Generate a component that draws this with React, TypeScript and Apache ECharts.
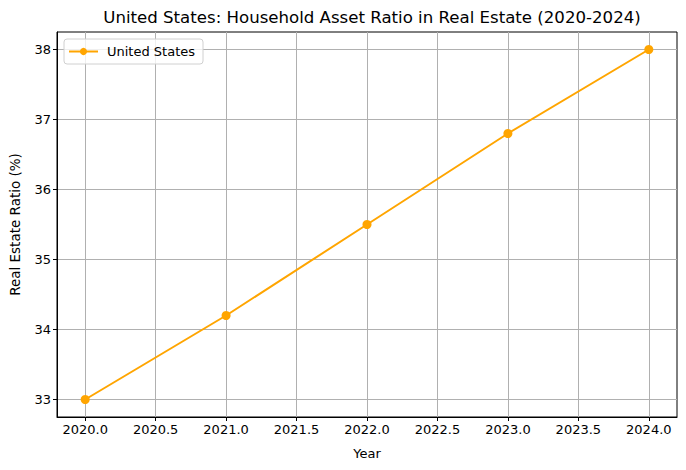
import React, { useEffect, useRef } from "react";
import * as echarts from "echarts";

const years = [2020, 2021, 2022, 2023, 2024];
const ratios = [33.0, 34.2, 35.5, 36.8, 38.0];
const xTicks = [2020, 2020.5, 2021, 2021.5, 2022, 2022.5, 2023, 2023.5, 2024];
const yTicks = [33, 34, 35, 36, 37, 38];
const seriesName = "United States";
const titleText = "United States: Household Asset Ratio in Real Estate (2020-2024)";

export default function App() {
  const ref = useRef<HTMLDivElement>(null);
  useEffect(() => {
    if (!ref.current) return;
    const chart = echarts.init(ref.current, null, { renderer: "svg" });
    const font = "DejaVu Sans";
    chart.setOption({
      animation: false,
      backgroundColor: "#fff",
      textStyle: { fontFamily: font },
      title: {
        text: titleText,
        left: 367,
        textAlign: "center",
        top: 4,
        textStyle: { fontFamily: font, fontSize: 16.6, fontWeight: "normal", color: "#000" },
      },
      legend: {
        left: 64,
        top: 39,
        orient: "vertical",
        backgroundColor: "rgba(255,255,255,0.8)",
        borderColor: "#d0d0d0",
        borderWidth: 1,
        borderRadius: 3,
        padding: [6, 8, 6, 4],
        itemWidth: 29,
        itemHeight: 9,
        itemGap: 4,
        textStyle: { fontFamily: font, fontSize: 13, color: "#000", padding: [0, 0, 0, 4] },
        data: [seriesName],
      },
      grid: {
        left: 57,
        right: 9,
        top: 32,
        bottom: 53,
        outerBoundsMode: "none",
        containLabel: false,
        show: true,
        borderColor: "#000",
        borderWidth: 1,
        backgroundColor: "transparent",
      },
      xAxis: {
        type: "value",
        min: 2019.8,
        max: 2024.2,
        splitNumber: 9,
        name: "Year",
        nameLocation: "middle",
        nameGap: 30,
        nameTextStyle: { fontFamily: font, fontSize: 13, color: "#000" },
        axisLine: { show: true, lineStyle: { color: "#000", width: 1 } },
        axisTick: { show: true, length: 4, lineStyle: { color: "#000" }, customValues: xTicks },
        axisLabel: {
          color: "#000",
          fontSize: 13,
          fontFamily: font,
          margin: 6,
          customValues: xTicks,
          formatter: (v: number) => v.toFixed(1),
        },
        splitLine: { show: true, lineStyle: { color: "#b0b0b0", width: 1 } },
      },
      yAxis: {
        type: "value",
        min: 32.75,
        max: 38.25,
        splitNumber: 5,
        name: "Real Estate Ratio (%)",
        nameLocation: "middle",
        nameGap: 35,
        nameTextStyle: { fontFamily: font, fontSize: 13.5, color: "#000" },
        axisLine: { show: true, lineStyle: { color: "#000", width: 1 } },
        axisTick: { show: true, length: 4, lineStyle: { color: "#000" }, customValues: yTicks },
        axisLabel: {
          color: "#000",
          fontSize: 13,
          fontFamily: font,
          margin: 6,
          customValues: yTicks,
          formatter: (v: number) => String(Math.round(v)),
        },
        splitLine: { show: true, lineStyle: { color: "#b0b0b0", width: 1 } },
      },
      series: [
        {
          name: seriesName,
          type: "line",
          data: years.map((y, i) => [y, ratios[i]]),
          color: "#FFA500",
          lineStyle: { color: "#FFA500", width: 2 },
          itemStyle: { color: "#FFA500" },
          symbol: "circle",
          symbolSize: 9,
          showSymbol: true,
        },
      ],
    });
    return () => chart.dispose();
  }, []);
  return (
    <div
      ref={ref}
      style={{ position: "absolute", left: 0, top: 0, width: 686, height: 470 }}
    />
  );
}
